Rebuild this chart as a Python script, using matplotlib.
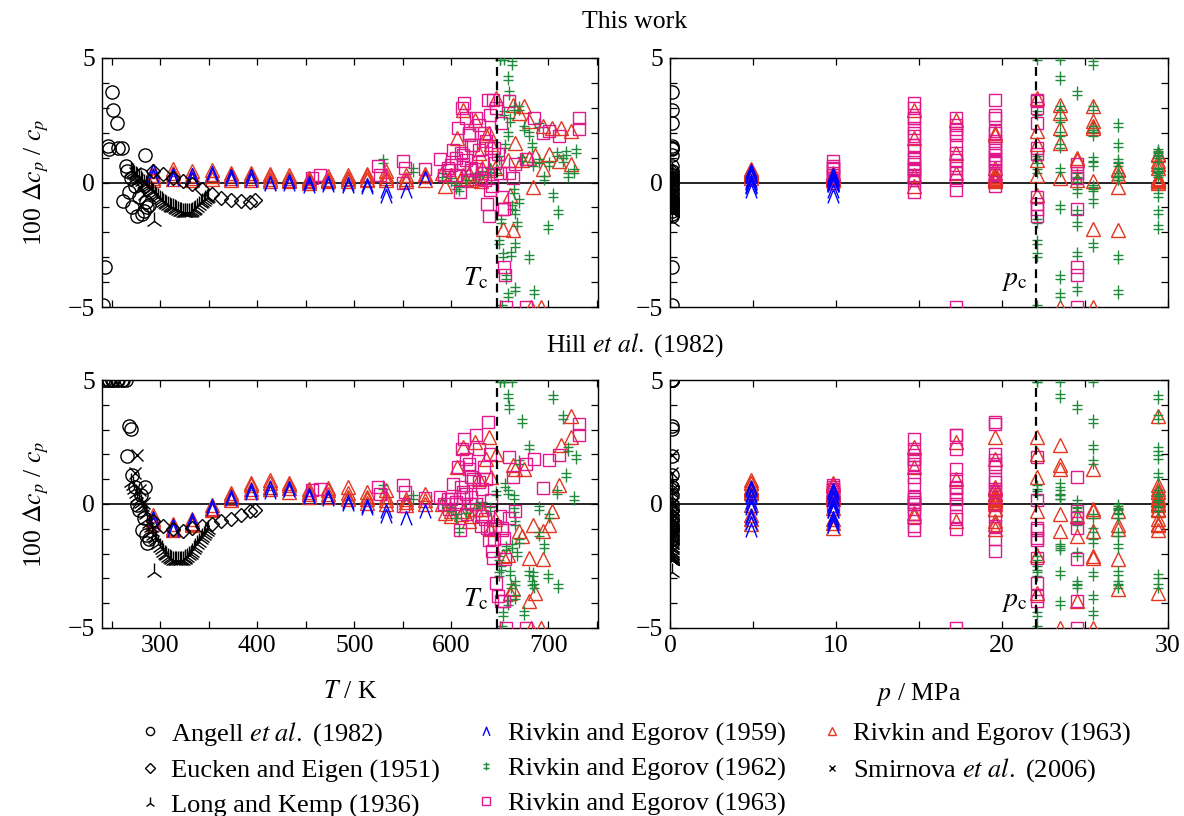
import numpy as np
import matplotlib
matplotlib.use('Agg')
import matplotlib.pyplot as plt
from matplotlib.path import Path
from matplotlib.lines import Line2D
from matplotlib.ticker import MultipleLocator, NullFormatter

plt.rcParams['font.family'] = ['Liberation Serif', 'DejaVu Serif']
plt.rcParams['mathtext.fontset'] = 'stix'
plt.rcParams['font.size'] = 18.5

Tc = 647.096   # K
pc = 22.064    # MPa
p_atm = 0.101325

# Angell et al. (1982), 0.1 MPa
angell_T = [241, 243.5, 246, 247, 250, 251, 255, 256, 261, 262, 265, 266, 268,
            270, 271, 274, 276, 278, 280, 281, 283, 284, 285, 286, 288]
angell_tw = [-4.9, -3.4, 1.47, 1.36, 3.63, 2.93, 2.4, 1.37, 1.37, -0.73, 0.67, 0.47, -0.37,
             0.2, -1.0, -0.13, -1.33, -0.6, 0.3, -1.27, -1.13, 1.09, -0.8, -1.0, -0.9]
angell_hill = [5, 5, 5, 5, 5, 5, 5, 5, 5, 5, 5, 1.92, 3.16,
               3.03, 1.16, 0.7, -0.04, -0.24, 0.36, -1.04, -0.57, 0.7, -1.24, -1.57, -1.4]

# Eucken and Eigen (1951), 0.1 MPa
eucken_T = [293, 303, 313, 323, 333, 343, 353, 363, 373, 383, 392, 398]
eucken_tw = [0.45, 0.35, 0.2, 0.07, -0.05, -0.25, -0.45, -0.62, -0.7, -0.73, -0.77, -0.72]
eucken_hill = [-0.7, -0.87, -1.02, -1.07, -0.97, -0.88, -0.8, -0.7, -0.61, -0.44, -0.3, -0.24]

# Long and Kemp (1936), 0.1 MPa
long_T = [270, 271.5, 273, 275, 276, 278, 280, 281.5, 283, 285, 286, 288, 290, 291.5,
          293, 295, 296, 298, 300, 301.5, 303, 305, 306, 308, 310, 311.5, 313, 315, 316,
          318, 320, 321.5, 323, 325, 326, 328, 330, 331.5, 333, 335, 336, 338, 340,
          341.5, 343, 345, 346, 348, 349, 294]
long_tw = [0.47, 0.41, 0.35, 0.3, 0.25, 0.19, 0.13, 0.07, 0.0, -0.07, -0.13, -0.2, -0.27,
           -0.33, -0.4, -0.47, -0.53, -0.6, -0.67, -0.72, -0.78, -0.83, -0.87, -0.9, -0.93,
           -0.97, -1.0, -1.03, -1.07, -1.1, -1.13, -1.15, -1.17, -1.19, -1.2, -1.2, -1.2,
           -1.18, -1.15, -1.1, -1.05, -0.98, -0.9, -0.84, -0.78, -0.73, -0.68, -0.64, -0.6,
           -1.53]
long_hill = [0.9, 0.75, 0.6, 0.45, 0.3, 0.18, 0.05, -0.1, -0.25, -0.42, -0.6, -0.77, -0.93,
             -1.1, -1.27, -1.37, -1.47, -1.6, -1.73, -1.83, -1.93, -2.0, -2.07, -2.12, -2.16,
             -2.2, -2.24, -2.26, -2.27, -2.27, -2.27, -2.26, -2.24, -2.2, -2.16, -2.12,
             -2.07, -2.0, -1.93, -1.83, -1.73, -1.63, -1.53, -1.43, -1.33, -1.24, -1.15,
             -1.07, -1.0, -2.75]

# Smirnova et al. (2006)
smirnova_T = [274, 276.5, 279, 283]
smirnova_tw = [0.4, 0.1, -0.2, -0.45]
smirnova_hill = [1.25, 1.98, 0.56, 0.05]

# Rivkin and Egorov (1959): isobars 4.9 and 9.8 MPa
liq_T = [293, 313, 333, 353, 373, 393, 413, 433, 453, 473, 493, 513, 533, 553, 573]
r59_tw_49 = [0.47, 0.29, 0.3, 0.4, 0.27, 0.27, 0.0, 0.07, -0.13, 0.0, -0.13, -0.2, -0.33]
r59_hill_49 = [-0.57, -1.04, -0.77, -0.1, 0.3, 0.56, 0.63, 0.63, 0.36, 0.3, 0.1, -0.17, -0.5]
r59_tw_98 = [0.27, 0.15, 0.15, 0.3, 0.15, 0.1, -0.05, -0.05, 0.0, -0.1, -0.05, -0.1, -0.53,
             -0.35, 0.2]
r59_hill_98 = [-0.75, -0.9, -0.65, -0.2, 0.2, 0.45, 0.5, 0.55, 0.3, 0.2, 0.0, -0.1, -0.3,
               -0.57, -0.3]

# Rivkin and Egorov (1963), triangles: liquid isobars
r63t_liq_p = [4.9, 9.8, 19.6, 29.4]
r63t_liq_tw = [
    [0.45, 0.55, 0.45, 0.5, 0.4, 0.4, 0.35, 0.3, 0.2, 0.25, 0.3, 0.35, 0.45],
    [0.3, 0.4, 0.3, 0.35, 0.3, 0.3, 0.25, 0.2, 0.1, 0.15, 0.2, 0.25, 0.3, 0.3, 0.35],
    [0.2, 0.25, 0.2, 0.25, 0.2, 0.2, 0.15, 0.1, 0.05, 0.1, 0.15, 0.15, 0.2, 0.15, 0.25],
    [0.1, 0.15, 0.1, 0.15, 0.1, 0.1, 0.05, 0.05, 0.0, 0.05, 0.05, 0.1, 0.1, 0.05, 0.1],
]
r63t_liq_hill = [
    [-0.45, -0.8, -0.6, -0.05, 0.45, 0.85, 0.95, 0.85, 0.6, 0.65, 0.7, 0.5, 0.55],
    [-0.6, -0.95, -0.75, -0.15, 0.35, 0.75, 0.85, 0.75, 0.5, 0.55, 0.45, 0.3, 0.3, 0.2, 0.4],
    [-0.7, -1.0, -0.8, -0.2, 0.25, 0.6, 0.7, 0.65, 0.4, 0.4, 0.3, 0.2, 0.15, 0.1, 0.15],
    [-0.8, -1.05, -0.85, -0.25, 0.15, 0.5, 0.6, 0.5, 0.3, 0.3, 0.2, 0.05, 0.0, -0.05, 0.0],
]

# Rivkin and Egorov (1963), triangles: near-critical points
r63t_T = [593, 600, 606, 612, 618, 624, 628, 590, 632, 636, 639, 600, 641, 646, 658, 660,
          610, 663, 666, 670, 713, 682, 620, 673, 680, 630, 653, 675, 680, 694, 704, 692,
          612, 640, 684, 686, 694, 663, 625, 645, 701, 711, 723, 723]
r63t_p = [14.7, 14.7, 14.7, 14.7, 17.2, 17.2, 17.2, 19.6, 19.6, 19.6, 19.6, 22.1, 22.1,
          22.1, 22.1, 22.1, 23.5, 23.5, 23.5, 23.5, 23.5, 23.5, 24.5, 24.5, 24.5, 25.5,
          25.5, 25.5, 25.5, 25.5, 25.5, 25.5, 27.0, 27.0, 27.0, 29.4, 27.0, 27.0, 29.4,
          29.4, 29.4, 29.4, 29.4, 22.1]
r63t_tw = [-0.13, 0.3, 1.8, 2.9, 0.4, 2.5, 1.2, 0.4, 0.6, 1.9, 2.0, 0.3, 1.53, 3.4, 0.9,
           -0.5, 0.2, 3.13, 1.6, 2.8, 2.2, -5.0, 0.1, 0.9, 1.0, 0.05, -1.87, 3.07, 2.47,
           2.27, 2.2, -5.0, 0.3, 0.5, -0.2, 1.1, 0.53, -1.9, 0.2, 0.6, 1.13, 0.87, 0.73, 2.07]
r63t_hill = [-0.37, -0.5, 1.5, 2.3, -0.7, 2.5, 1.0, 0.0, -0.2, 1.8, 2.7, -0.3, 1.1, 2.0,
             -2.04, -3.6, -0.4, 1.56, 1.43, -1.1, 2.36, -5.0, -0.5, -1.3, -3.9, -0.2, -2.1,
             1.4, -2.17, -1.1, -0.3, -5.0, -0.3, -1.0, -0.84, -3.6, -2.2, -3.44, -0.2, -0.6,
             -0.84, 0.76, 3.56, 2.7]

# Rivkin and Egorov (1963), squares
r63s_T = [456, 465, 524, 526, 550, 552, 550, 573,
          588, 596, 598, 605, 609, 612, 613, 615, 618, 620, 625, 630, 685, 711,
          600, 615, 622, 625, 632, 640, 677, 694, 731.6,
          605, 620, 632, 635.6, 638, 640, 642, 644, 650, 676.7, 700.7, 731.6,
          637, 638.7, 640.7, 642.5, 646, 647.6, 651, 652, 654, 659.6,
          652.4, 654, 655, 656, 659.6, 663, 666,
          592, 602, 607, 611, 616, 610, 618, 628, 635, 620, 612, 628, 634, 645]
r63s_p = [9.8] * 8 + [14.7] * 14 + [17.2] * 9 + [19.6] * 12 + [22.1] * 10 + [24.5] * 7 + \
         [14.7] * 5 + [17.2] * 5 + [19.6] * 4
r63s_tw = [0.2, 0.3, 0.67, 0.29, 0.87, 0.6, 0.0, 0.55,
           0.93, 0.6, 0.5, 1.0, -0.4, 0.73, 3.2, 2.6, 2.0, 1.5, 0.53, 0.2, 2.6, 1.87,
           0.7, 0.9, 1.5, 2.6, 0.4, -0.3, -5.0, 2.0, 2.13,
           0.3, 0.5, 0.87, 1.67, 3.33, 2.7, -0.13, 1.4, 0.4, 0.93, 2.07, 2.6,
           -0.87, -1.33, 1.4, 3.33, 3.0, 1.13, 2.4, -0.6, -1.07, 3.27,
           -1.07, -3.4, -3.73, -5.0, 0.4, 0.2, 0.73,
           0.3, 1.3, 2.2, 3.0, 0.1, 1.2, 1.9, 2.3, 0.1, 0.6, 1.1, 1.3, 2.0, 0.8]
r63s_hill = [0.56, 0.59, 0.69, 0.4, 0.76, 0.5, -0.1, 0.23,
             0.3, 0.2, -0.2, 0.1, -1.04, 0.3, 2.63, 1.8, 1.6, 1.1, 0.0, -0.9, 1.83, 1.96,
             0.2, 0.4, 1.0, 2.8, -0.5, -1.0, -5.0, 0.63, 2.8,
             0.0, 0.3, 0.6, 1.0, 3.3, 2.0, -1.9, -1.4, -0.5, 1.63, 1.76, 3.23,
             -0.97, -1.44, 0.16, -2.17, -3.17, -3.7, -3.9, -1.04, -1.37, 1.9,
             -0.97, -3.9, -2.2, -5.0, -0.57, 1.1, -0.3,
             0.0, 0.8, 1.5, 2.2, -0.4, 0.7, 1.4, 2.2, -0.6, 0.0, 0.5, 0.9, 1.5, -0.9]

# Rivkin and Egorov (1962)
r62_T = [529, 560, 590, 600, 605, 608, 615, 625, 632, 640,
         646, 649, 651, 649, 650, 652, 653, 654,
         654, 655, 656, 658, 658, 658, 660, 662, 664,
         659.6, 661, 664.7, 666, 668, 666,
         662, 665, 670, 670, 673, 675, 680, 683.6,
         680, 683, 685, 690, 690, 695, 701,
         700, 705, 709, 710, 715, 718, 720, 726, 728]
r62_p = [22.1, 23.5, 24.5, 24.5, 25.5, 25.5, 27.0, 27.0, 29.4, 29.4] + [22.1] * 8 + \
        [23.5] * 9 + [24.5] * 6 + [25.5] * 8 + [27.0] * 7 + [29.4] * 9
r62_tw = [0.87, 0.5, 0.3, 0.1, -0.2, -0.27, 0.2, 0.3, 0.4, 0.5,
          0.47, 1.0, -1.53, -2.4, 5.5, -5.5, -2.93, 2.8,
          5.5, 1.47, -3.8, 4.2, 1.93, -4.53, 2.5, -1.0, 3.0,
          3.6, -2.87, -0.33, -1.2, -1.67, -4.27,
          4.8, -2.5, -0.73, 3.0, 0.93, 2.2, 1.93, 0.73,
          -3.0, 1.5, -4.4, 0.87, 2.3, 0.2, 0.73,
          -1.8, -0.5, 1.13, -1.2, 0.9, 1.2, 0.3, 0.47, 1.27]
r62_hill = [0.69, 0.3, 0.1, -0.2, -0.5, -1.04, -0.3, -0.1, 0.0, -0.2,
            0.43, -2.17, -2.6, -2.84, 5.5, -5.5, -4.44, 5.5,
            5.5, 0.76, -1.77, 4.36, 0.5, -4.0, -2.8, -1.7, 0.3,
            3.9, -3.3, -0.24, -0.77, -2.0, -3.2,
            5.5, -3.77, -1.5, 1.7, 3.36, -4.4, 2.3, -2.84,
            -2.8, -3.17, -3.3, -0.17, -1.2, -1.7, -0.5,
            -2.9, 4.3, 0.5, -3.3, 3.5, 1.16, 2.2, 0.23, 1.9]

# markers that matplotlib does not provide
chevron = Path([(-0.8, -1.0), (0.0, 1.0), (0.8, -1.0)],
               [Path.MOVETO, Path.LINETO, Path.LINETO])
ddagger = Path([(0, -1), (0, 1), (-0.7, 0.35), (0.7, 0.35), (-0.7, -0.35), (0.7, -0.35)],
               [Path.MOVETO, Path.LINETO, Path.MOVETO, Path.LINETO, Path.MOVETO, Path.LINETO])

red = '#e4351f'
pink = '#e0188c'
green = '#1f8b3b'
blue = '#0000ff'

# assemble the sets
r59_T = liq_T[:len(r59_tw_49)] + liq_T
r59_p = [4.9] * len(r59_tw_49) + [9.8] * len(liq_T)
r59_tw = r59_tw_49 + r59_tw_98
r59_hill = r59_hill_49 + r59_hill_98

r63t_allT, r63t_allp, r63t_alltw, r63t_allhill = [], [], [], []
for p, tw, hl in zip(r63t_liq_p, r63t_liq_tw, r63t_liq_hill):
    r63t_allT += liq_T[:len(tw)]
    r63t_allp += [p] * len(tw)
    r63t_alltw += tw
    r63t_allhill += hl
r63t_allT += r63t_T
r63t_allp += r63t_p
r63t_alltw += r63t_tw
r63t_allhill += r63t_hill

datasets = [
    dict(label='Rivkin and Egorov (1963)', T=r63t_allT, p=r63t_allp, tw=r63t_alltw,
         hill=r63t_allhill, marker='^', ms=10, color=red, order=7),
    dict(label='Rivkin and Egorov (1962)', T=r62_T, p=r62_p, tw=r62_tw, hill=r62_hill,
         marker=ddagger, ms=10, color=green, order=5),
    dict(label='Rivkin and Egorov (1963)', T=r63s_T, p=r63s_p, tw=r63s_tw, hill=r63s_hill,
         marker='s', ms=9, color=pink, order=6),
    dict(label='Rivkin and Egorov (1959)', T=r59_T, p=r59_p, tw=r59_tw, hill=r59_hill,
         marker=chevron, ms=10, color=blue, order=4),
    dict(label=r'Angell $\mathit{et\ al.}$ (1982)', T=angell_T, p=[p_atm] * len(angell_T),
         tw=angell_tw, hill=angell_hill, marker='o', ms=9.5, color='k', order=1),
    dict(label='Eucken and Eigen (1951)', T=eucken_T, p=[p_atm] * len(eucken_T),
         tw=eucken_tw, hill=eucken_hill, marker='D', ms=7.5, color='k', order=2),
    dict(label='Long and Kemp (1936)', T=long_T, p=[p_atm] * len(long_T),
         tw=long_tw, hill=long_hill, marker='2', ms=13, color='k', order=3),
    dict(label=r'Smirnova $\mathit{et\ al.}$ (2006)', T=smirnova_T,
         p=[p_atm] * len(smirnova_T), tw=smirnova_tw, hill=smirnova_hill,
         marker='x', ms=8, color='k', order=8),
]

fig = plt.figure(figsize=(11.84, 8.16), dpi=100)
W, H = 1184.0, 816.0
ax_tT = fig.add_axes([102 / W, 1 - 307 / H, 496 / W, 249 / H])
ax_tp = fig.add_axes([670 / W, 1 - 307 / H, 498 / W, 249 / H])
ax_hT = fig.add_axes([102 / W, 1 - 628 / H, 496 / W, 248 / H])
ax_hp = fig.add_axes([670 / W, 1 - 628 / H, 498 / W, 248 / H])

panels = [(ax_tT, 'T', 'tw'), (ax_tp, 'p', 'tw'), (ax_hT, 'T', 'hill'), (ax_hp, 'p', 'hill')]

for ax, xkey, ykey in panels:
    for d in datasets:
        y = np.clip(np.asarray(d[ykey], dtype=float), -5, 5)
        ax.plot(d[xkey], y, linestyle='none', marker=d['marker'], ms=d['ms'],
                mfc='none', mec=d['color'], mew=1.0, zorder=3)
    ax.axhline(0, color='k', lw=1.2, zorder=2)
    ax.set_ylim(-5, 5)
    ax.yaxis.set_major_locator(MultipleLocator(5))
    ax.yaxis.set_minor_locator(MultipleLocator(1))
    if xkey == 'T':
        ax.set_xlim(240, 751)
        ax.xaxis.set_major_locator(MultipleLocator(100))
        ax.xaxis.set_minor_locator(MultipleLocator(50))
        ax.axvline(Tc, color='k', lw=1.6, ls=(0, (4, 2.5)), zorder=4)
        ax.text(Tc - 9, -3.85, r'$T_{\rm c}$', ha='right', va='center', fontsize=20)
        ax.set_ylabel(r'100 $\Delta c_p$ / $c_p$', labelpad=12)
    else:
        ax.set_xlim(0, 30)
        ax.xaxis.set_major_locator(MultipleLocator(10))
        ax.xaxis.set_minor_locator(MultipleLocator(5))
        ax.axvline(pc, color='k', lw=1.6, ls=(0, (4, 2.5)), zorder=4)
        ax.text(pc - 0.55, -3.95, r'$p_{\rm c}$', ha='right', va='center', fontsize=20)
    ax.tick_params(which='both', direction='in', top=True, right=True, length=5,
                   width=0.9, pad=5)
    for s in ax.spines.values():
        s.set_linewidth(1.0)
    if ykey == 'tw':
        ax.xaxis.set_major_formatter(NullFormatter())

ax_hT.set_xlabel(r'$T$ / K', labelpad=17)
ax_hp.set_xlabel(r'$p$ / MPa', labelpad=17)

fig.text(635 / W, 1 - 22 / H, 'This work', ha='center', va='center')
fig.text(635 / W, 1 - 345 / H, r'Hill $\mathit{et\ al.}$ (1982)', ha='center', va='center')

handles, labels = [], []
for d in sorted(datasets, key=lambda k: k['order']):
    handles.append(Line2D([], [], linestyle='none', marker=d['marker'], ms=d['ms'] * 0.62,
                          mfc='none', mec=d['color'], mew=1.0))
    labels.append(d['label'])
fig.legend(handles, labels, ncol=3, loc='upper left', bbox_to_anchor=(0.118, 0.118),
           frameon=False, fontsize=19, handlelength=0.8, handletextpad=0.4,
           columnspacing=1.35, labelspacing=0.42, borderpad=0, borderaxespad=0)

fig.savefig('out.png', dpi=100)
